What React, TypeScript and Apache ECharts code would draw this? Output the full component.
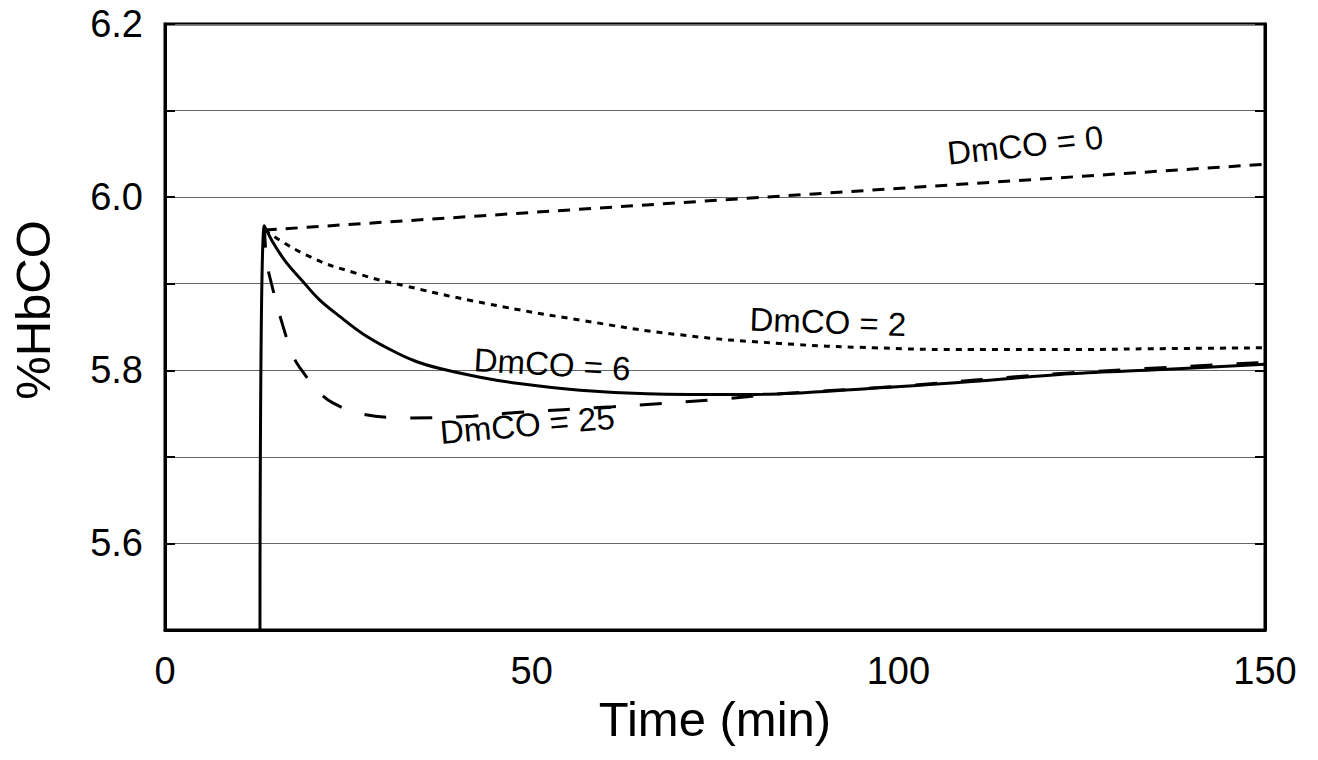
import React, { useEffect, useRef } from "react";
import * as echarts from "echarts";

// DmCO = 6 (solid)
const t6 = [12.95, 13.54, 14.77, 16.5, 18.86, 21, 23.86, 27, 30.7, 34, 37.5, 42.95, 48, 56.6, 65.7, 79.3, 96.1, 110, 123.4, 136, 150];
const v6 = [5.5, 5.967, 5.947, 5.925, 5.902, 5.882, 5.862, 5.842, 5.824, 5.811, 5.802, 5.792, 5.785, 5.777, 5.773, 5.772, 5.779, 5.787, 5.796, 5.801, 5.807];
// DmCO = 25 (long dash)
const t25 = [13.54, 13.9, 14.55, 15.7, 17.5, 18.9, 21.1, 22.95, 26.6, 33, 42, 47.5, 61.1, 74.8, 83.9, 97.5, 123.4, 150];
const v25 = [5.967, 5.924, 5.899, 5.862, 5.816, 5.797, 5.774, 5.762, 5.75, 5.745, 5.747, 5.751, 5.758, 5.766, 5.773, 5.78, 5.797, 5.809];
// DmCO = 2 (dotted)
const t2 = [13.6, 19.3, 26.1, 33, 43.9, 56.6, 70.2, 83.9, 96.6, 109.8, 123.4, 136, 150];
const v2 = [5.962, 5.933, 5.912, 5.897, 5.877, 5.858, 5.841, 5.831, 5.826, 5.824, 5.824, 5.825, 5.826];
// DmCO = 0 (dashed)
const t0 = [13.6, 150];
const v0 = [5.962, 6.038];

// annotations
const noteText = ["DmCO = 0", "DmCO = 2", "DmCO = 6", "DmCO = 25"];
const noteX = [117.3, 90.4, 52.8, 49.4];
const noteY = [6.06, 5.856, 5.807, 5.737];
const noteRot = [6, -2, -3.5, 5];

const xTicks = [0, 50, 100, 150];
const FONT = "'Liberation Sans', Arial, sans-serif";

const pairs = (xs: number[], ys: number[]) => xs.map((x, i) => [x, ys[i]]);

export default function App() {
  const ref = useRef<HTMLDivElement>(null);
  useEffect(() => {
    if (!ref.current) return;
    const chart = echarts.init(ref.current, null, { renderer: "svg" });
    const lineBase = { type: "line", showSymbol: false, symbol: "none", silent: true, z: 3 };
    chart.setOption({
      animation: false,
      grid: {
        left: 165, right: 53, top: 24, bottom: 130,
        show: true, borderColor: "#000", borderWidth: 3, backgroundColor: "transparent",
        outerBoundsMode: "none",
      },
      xAxis: {
        type: "value", min: 0, max: 150, interval: 50,
        axisLine: { show: true, lineStyle: { color: "#000", width: 3 } },
        axisTick: { show: false },
        splitLine: { show: false },
        axisLabel: { color: "#000", fontSize: 38, fontFamily: FONT, margin: 22,
          formatter: (v: number) => (xTicks.includes(v) ? String(v) : "") },
        name: "Time (min)", nameLocation: "middle", nameGap: 62,
        nameTextStyle: { color: "#000", fontSize: 49, fontFamily: FONT },
      },
      yAxis: [
        {
          type: "value", min: 5.5, max: 6.2, interval: 0.1,
          axisLine: { show: true, lineStyle: { color: "#000", width: 3 } },
          axisTick: { show: true, inside: true, length: 10, lineStyle: { color: "#000", width: 2 } },
          splitLine: { show: true, lineStyle: { color: "#666", width: 1 } },
          axisLabel: { color: "#000", fontSize: 38, fontFamily: FONT, margin: 22,
            formatter: (v: number) => { const k = Math.round(v * 10); return k % 2 === 0 ? (k / 10).toFixed(1) : ""; } },
        },
        {
          type: "value", min: 5.5, max: 6.2, interval: 0.1, position: "right",
          axisLine: { show: true, lineStyle: { color: "#000", width: 3 } },
          axisTick: { show: true, inside: true, length: 10, lineStyle: { color: "#000", width: 2 } },
          splitLine: { show: false },
          axisLabel: { show: false },
        },
      ],
      graphic: [
        {
          type: "text", x: 33, y: 310, rotation: Math.PI / 2,
          style: { text: "%HbCO", font: `49px ${FONT}`, fill: "#000", textAlign: "center", textVerticalAlign: "middle", align: "center", verticalAlign: "middle" },
        },
      ],
      series: [
        { ...lineBase, name: "DmCO = 0", data: pairs(t0, v0), lineStyle: { color: "#000", width: 3, type: [12, 9] } },
        { ...lineBase, name: "DmCO = 2", data: pairs(t2, v2), smooth: 0.5, lineStyle: { color: "#000", width: 3, type: [6, 6] } },
        { ...lineBase, name: "DmCO = 6", data: pairs(t6, v6), smooth: 0.35, lineStyle: { color: "#000", width: 3, type: "solid" } },
        { ...lineBase, name: "DmCO = 25", data: pairs(t25, v25), smooth: 0.35, lineStyle: { color: "#000", width: 3, type: [22, 24] } },
        {
          type: "scatter", silent: true, symbolSize: 0, z: 5,
          itemStyle: { opacity: 1 },
          data: noteText.map((n, i) => ({ name: n, value: [noteX[i], noteY[i]], label: { rotate: noteRot[i] } })),
          label: { show: true, position: "inside", formatter: "{b}", color: "#000", opacity: 1, textBorderWidth: 0, fontSize: 33, fontFamily: FONT },
        },
      ],
    });
    return () => chart.dispose();
  }, []);
  return <div ref={ref} style={{ position: "fixed", left: 0, top: 0, width: 1318, height: 760, background: "#fff" }} />;
}
